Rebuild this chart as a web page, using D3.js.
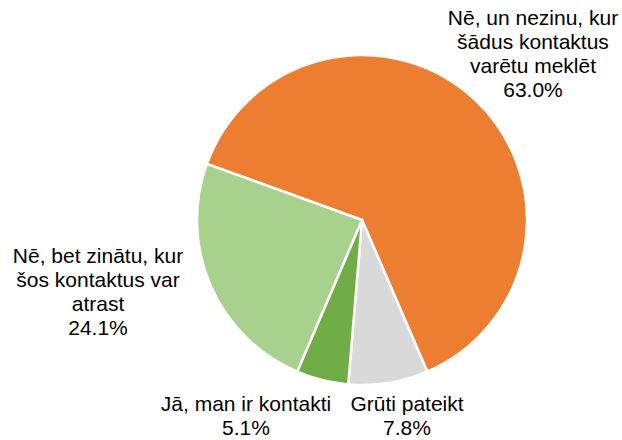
<!DOCTYPE html>
<html>
<head>
<meta charset="utf-8">
<script src="https://cdn.jsdelivr.net/npm/d3@7"></script>
<style>
  body { margin: 0; background: #fff; }
  text { font-family: "Liberation Sans", Arial, sans-serif; fill: #000; }
</style>
</head>
<body>
<div id="chart"></div>
<script>
// data, in drawing order (clockwise)
var categories = ["Nē, un nezinu, kur šādus kontaktus varētu meklēt", "Grūti pateikt", "Jā, man ir kontakti", "Nē, bet zinātu, kur šos kontaktus var atrast"];
var values = [63.0, 7.8, 5.1, 24.1];
var labelLines = [
    ["Nē, un nezinu, kur", "šādus kontaktus", "varētu meklēt"],
    ["Grūti pateikt"],
    ["Jā, man ir kontakti"],
    ["Nē, bet zinātu, kur", "šos kontaktus var", "atrast"]
];
var colors = ["#ED7D31", "#D9D9D9", "#70AD47", "#A9D18E"];

var w = 622, h = 440;
var cx = 362, cy = 220, r = 165;
var startDeg = -70.1;
var fontSize = 21, lineH = 24;

// where the label block sits (centre x, first line y)
var labelPos = [[533, 18], [407, 404], [246, 404], [98, 256]];

var svg = d3.select("#chart").append("svg")
    .attr("width", w)
    .attr("height", h);

var pie = d3.pie()
    .sort(null)
    .value(function(d) { return d; })
    .startAngle(startDeg * Math.PI / 180)
    .endAngle(startDeg * Math.PI / 180 + 2 * Math.PI);

var arc = d3.arc().innerRadius(0).outerRadius(r);

var g = svg.append("g")
    .attr("transform", "translate(" + cx + "," + cy + ")");

g.selectAll("path")
    .data(pie(values))
    .enter()
    .append("path")
        .attr("d", arc)
        .attr("fill", function(d, i) { return colors[i]; })
        .attr("stroke", "#fff")
        .attr("stroke-width", 2.5)
        .attr("stroke-linejoin", "round");

// labels
values.forEach(function(v, i) {
    var lines = labelLines[i].concat([v.toFixed(1) + "%"]);
    var t = svg.append("text")
        .attr("text-anchor", "middle")
        .style("font-size", fontSize + "px");
    lines.forEach(function(l, j) {
        t.append("tspan")
            .attr("x", labelPos[i][0])
            .attr("y", labelPos[i][1] + j * lineH)
            .attr("dy", "0.35em")
            .text(l);
    });
});
</script>
</body>
</html>
